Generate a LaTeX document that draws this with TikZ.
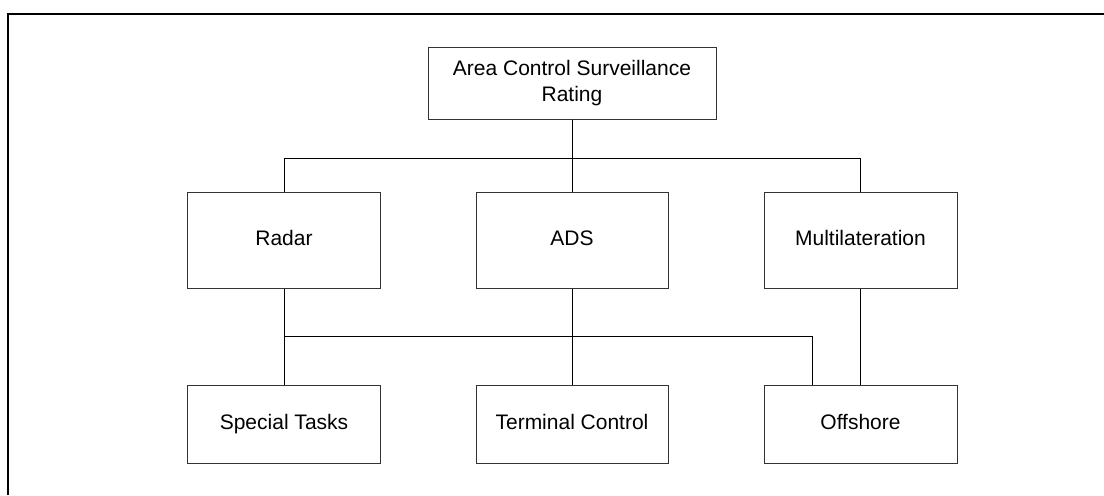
\documentclass[tikz,border=0pt]{standalone}
\usepackage{fontspec}
\setmainfont{Liberation Sans}
\begin{document}
\begin{tikzpicture}[x=0.5pt,y=-0.5pt,
  box/.style={draw=black!80, line width=0.5pt, inner sep=0pt, align=center,
    font=\fontsize{10.5pt}{13pt}\selectfont},
  onebox/.style={box, text height=7.6pt, text depth=2.2pt},
  wire/.style={draw=black, line width=0.5pt}]
\useasboundingbox (0,0) rectangle (1104,495);
\draw[line width=1pt] (7.5,495) -- (7.5,13.5) -- (1104,13.5);
% nodes
\node[box, minimum width=144pt, minimum height=36pt] (top) at (572,83) {Area Control Surveillance\\Rating};
\node[onebox, minimum width=96.5pt, minimum height=48pt] (radar) at (284,240) {Radar};
\node[onebox, minimum width=96pt, minimum height=48pt] (ads) at (572,240) {ADS};
\node[onebox, minimum width=96.5pt, minimum height=48pt] (multi) at (860.5,240) {Multilateration};
\node[onebox, minimum width=96.5pt, minimum height=39pt] (special) at (284,424) {Special Tasks};
\node[onebox, minimum width=96pt, minimum height=39pt] (terminal) at (572,424) {Terminal Control};
\node[onebox, minimum width=96.5pt, minimum height=39pt] (offshore) at (860.5,424) {Offshore};
% connectors
\coordinate (bus1) at (572,158);
\coordinate (bus2) at (284,336);
\coordinate (offjoin) at (812,336);
\draw[wire] (top.south) -- (bus1);
\draw[wire] (radar.north) -- (radar.north |- bus1) -- (multi.north |- bus1) -- (multi.north);
\draw[wire] (ads.north) -- (ads.north |- bus1);
\draw[wire] (radar.south) -- (special.north);
\draw[wire] (ads.south) -- (terminal.north);
\draw[wire] (multi.south) -- (offshore.north);
\draw[wire] (bus2) -- (offjoin) -- (offjoin |- offshore.north);
\end{tikzpicture}
\end{document}
